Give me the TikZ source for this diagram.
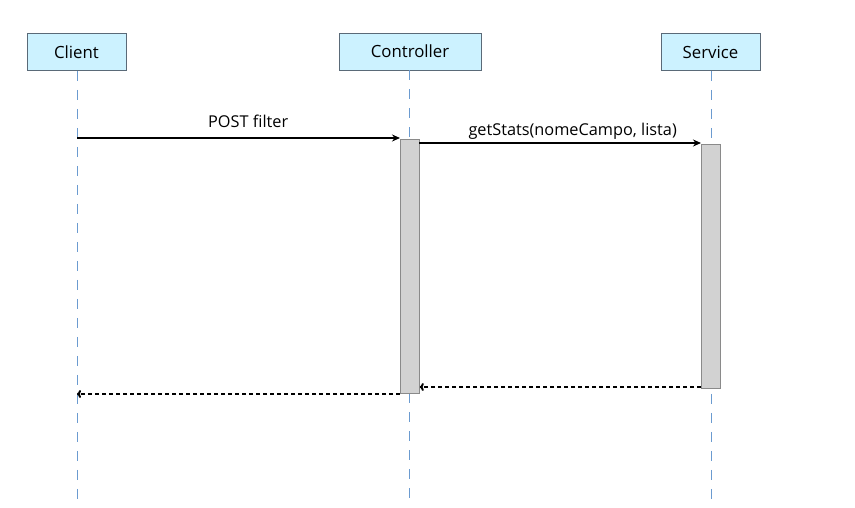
\documentclass[tikz,border=0pt]{standalone}
\usepackage{fontspec}
\setmainfont{Open Sans}
\usetikzlibrary{arrows.meta}
\definecolor{boxfill}{HTML}{CCF2FF}
\definecolor{boxdraw}{HTML}{5A6A78}
\definecolor{lifeblue}{HTML}{6B9BD0}
\definecolor{actfill}{HTML}{D2D2D2}
\definecolor{actdraw}{HTML}{8A8A8A}
\tikzset{
  actor/.style={draw=boxdraw, fill=boxfill, line width=0.9pt, minimum height=37pt, inner sep=0pt, font=\fontsize{16.8}{19}\selectfont},
  lifeline/.style={draw=lifeblue, line width=0.7pt, dash pattern=on 10pt off 9pt},
  actbar/.style={draw=actdraw, fill=actfill, line width=0.8pt},
  msg/.style={draw=black, line width=1.6pt, -{Stealth[length=8pt,width=7pt]}},
  ret/.style={draw=black, line width=2pt, dash pattern=on 4pt off 3pt, -{To[length=4pt,width=8pt]}},
  lbl/.style={font=\fontsize{16.3}{18}\selectfont, inner sep=0pt}
}
\begin{document}
\begin{tikzpicture}[x=1pt,y=-1pt]
\useasboundingbox (0,0) rectangle (855,508);
\node[actor, minimum width=99pt] (client) at (76.5,52) {Client};
\node[actor, minimum width=142pt] (controller) at (410,51.5) {Controller};
\node[actor, minimum width=99pt] (service) at (710.5,52) {Service};
\coordinate (cend) at (77,503);
\coordinate (kend) at (409,503);
\coordinate (send) at (711,503);
\draw[lifeline] (client.south -| cend) -- (cend);
\draw[lifeline] (controller.south -| kend) -- (kend);
\draw[lifeline] (service.south -| send) -- (send);
\node[actbar, minimum width=19pt, minimum height=254pt, inner sep=0pt, anchor=north west] (cbar) at (400,139) {};
\node[actbar, minimum width=19pt, minimum height=244pt, inner sep=0pt, anchor=north west] (sbar) at (701,144) {};
\coordinate (p1) at (77,138);
\draw[msg] (p1) -- (p1 -| cbar.west) node[lbl, pos=0.53, above=10pt] {POST filter};
\coordinate (p2) at (419,143);
\draw[msg] (p2) -- (p2 -| sbar.west) node[lbl, pos=0.545, above=3pt] {getStats(nomeCampo, lista)};
\coordinate (p3) at (701,387);
\draw[ret] (p3) -- (p3 -| cbar.east);
\coordinate (p4) at (400,394);
\draw[ret] (p4) -- (p4 -| cend);
\end{tikzpicture}
\end{document}
